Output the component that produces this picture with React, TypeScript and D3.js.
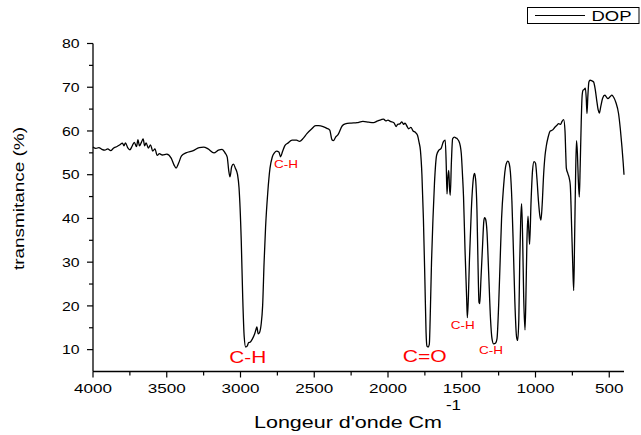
import React from "react";
import * as d3 from "d3";

const wavenumbers: number[] = [
  4000, 3980, 3960, 3940, 3920, 3900, 3880, 3860, 3840, 3820, 3800, 3790, 3780, 3765, 3750, 3735, 3720, 3705, 3695, 3685,
  3672, 3660, 3650, 3640, 3625, 3610, 3595, 3580, 3565, 3550, 3530, 3500, 3470, 3450, 3437, 3420, 3400, 3370, 3320, 3280,
  3250, 3220, 3180, 3150, 3125, 3105, 3090, 3080, 3071, 3060, 3048, 3035, 3020, 3010, 2995, 2985, 2975, 2965, 2955, 2945,
  2935, 2920, 2905, 2895, 2889, 2880, 2870, 2860, 2850, 2840, 2830, 2815, 2800, 2785, 2770, 2755, 2740, 2728, 2715, 2700,
  2680, 2650, 2620, 2600, 2575, 2550, 2520, 2490, 2470, 2440, 2414, 2395, 2380, 2370, 2355, 2340, 2310, 2290, 2250, 2210,
  2170, 2130, 2098, 2070, 2045, 2030, 2015, 2000, 1985, 1960, 1945, 1935, 1920, 1906, 1895, 1885, 1870, 1860, 1845, 1830,
  1815, 1800, 1790, 1780, 1770, 1760, 1750, 1742, 1736, 1728, 1720, 1712, 1705, 1695, 1685, 1670, 1655, 1640, 1625, 1612,
  1605, 1600, 1595, 1588, 1583, 1578, 1570, 1562, 1550, 1540, 1530, 1520, 1510, 1503, 1495, 1488, 1478, 1467, 1462, 1455,
  1448, 1435, 1420, 1413, 1405, 1397, 1390, 1383, 1378, 1370, 1360, 1350, 1345, 1338, 1329, 1318, 1305, 1295, 1284, 1270,
  1261, 1250, 1240, 1230, 1216, 1200, 1187, 1178, 1170, 1160, 1150, 1140, 1128, 1121, 1113, 1107, 1100, 1094, 1087, 1080,
  1071, 1065, 1058, 1051, 1045, 1040, 1030, 1020, 1010, 1000, 990, 980, 970, 963, 955, 945, 935, 927, 915, 900,
  885, 870, 855, 843, 830, 820, 809, 800, 795, 791, 780, 770, 764, 755, 748, 741, 735, 728, 722, 716,
  710, 703, 697, 690, 684, 678, 670, 662, 656, 651, 645, 638, 630, 620, 606, 595, 585, 575, 567, 558,
  545, 530, 520, 509, 495, 482, 470, 455, 437, 425, 414, 405, 400,
];

const transmittance: number[] = [
  56.3, 56.0, 56.2, 55.8, 55.6, 55.9, 55.5, 56.1, 56.4, 56.8, 57.2, 56.6, 57.3, 56.2, 55.7, 56.5, 57.4, 56.4, 58.0, 56.6,
  57.4, 58.2, 56.6, 57.3, 56.1, 56.8, 55.4, 55.9, 54.4, 54.8, 54.5, 54.7, 53.8, 52.2, 51.5, 52.6, 54.3, 55.0, 55.5, 56.2,
  56.3, 55.9, 55.0, 55.6, 55.8, 55.0, 54.0, 51.0, 49.5, 51.8, 52.4, 51.5, 50.0, 47.0, 35, 22, 13, 10.6, 10.8, 11.6,
  11.7, 12.4, 13.5, 14.6, 15.2, 13.6, 14.0, 15.8, 20, 30, 38, 46, 51.5, 54, 55, 55.4, 55.2, 54.1, 55.3, 56.6,
  57.2, 57.9, 57.9, 57.6, 58.3, 59.4, 60.4, 61.2, 61.2, 61.0, 60.6, 60.2, 58.0, 57.8, 58.6, 59.1, 61.2, 61.6, 61.8, 61.9,
  62.2, 62.0, 61.9, 62.3, 62.6, 62.7, 62.3, 62.5, 62.2, 61.9, 61.0, 61.5, 61.6, 62.1, 61.5, 61.8, 61.0, 60.5, 60.8, 60.0,
  59.7, 59.0, 57.5, 55.5, 50, 40, 26, 14, 10.8, 10.6, 11.2, 20, 30, 40, 48, 54.5, 55.6, 56.0, 57.5, 57.9,
  52, 45.6, 49, 51, 47, 45.3, 53, 58.2, 58.6, 58.4, 58.2, 57.7, 56.6, 54.8, 50, 45, 33, 22, 17.3, 22,
  30.4, 42, 49.5, 50.3, 48.5, 42, 30, 20.8, 20.5, 26, 33, 39.5, 40.2, 39.8, 37, 28, 17, 12.5, 11.3, 11.5,
  12.5, 20, 30, 40, 47.5, 52.3, 53.1, 52.5, 50.5, 44, 33, 21, 12.8, 12.1, 17, 30, 40, 43.4, 35, 22,
  14.5, 22, 35, 40.5, 37, 34.1, 44, 51, 53, 52.6, 49, 44, 40.5, 39.6, 43, 50, 54.5, 56.5, 58.5, 60.0,
  60.2, 60.8, 61.3, 61.7, 61.5, 62.2, 62.6, 60, 55, 51.5, 50.2, 49.0, 47.5, 38, 30, 23.5, 35, 50, 57.8, 55,
  49, 44.9, 52, 62, 68, 69.3, 69.5, 69.8, 67.5, 64.0, 68, 71.2, 71.6, 71.5, 71.2, 69.5, 67, 64.8, 64.1, 65.5,
  67.5, 68.2, 67.8, 67.4, 67.8, 68.2, 67.7, 66.5, 64.0, 60.5, 56.4, 52.5, 50,
];

const xTicks: number[] = [4000, 3500, 3000, 2500, 2000, 1500, 1000, 500];
const xMinorTicks: number[] = [3750, 3250, 2750, 2250, 1750, 1250, 750];
const yTicks: number[] = [10, 20, 30, 40, 50, 60, 70, 80];
const yMinorTicks: number[] = [15, 25, 35, 45, 55, 65, 75];

const seriesName = "DOP";
const xTitle = "Longeur d'onde Cm";
const xTitleSup = "-1";
const yTitle = "transmitance (%)";

// band annotations: text, anchor wavenumber (left edge), anchor transmittance (baseline)
const bandText: string[] = ["C-H", "C=O", "C-H", "C-H", "C-H"];
const bandWn: number[] = [3076, 1900, 2772, 1575, 1383];
const bandVal: number[] = [6.9, 7.2, 51.5, 14.8, 9.0];
const bandSize: number[] = [17, 17, 11, 11, 11];
const bandLen: number[] = [37, 44, 24, 24, 24];

const FONT = "'Liberation Sans', Arial, Helvetica, sans-serif";

export default function App() {
  const x = d3.scaleLinear().domain([4000, 400]).range([93, 624]);
  const y = d3.scaleLinear().domain([5, 80]).range([371.5, 43.5]);
  const data = wavenumbers.map((w, i) => [w, transmittance[i]] as [number, number]);
  const line = d3
    .line<[number, number]>()
    .x((d) => x(d[0]))
    .y((d) => y(d[1]))
    .curve(d3.curveMonotoneX);

  const x0 = x.range()[0];
  const x1 = x.range()[1];
  const yBottom = y.range()[0];
  const yTop = y.range()[1];

  return (
    <svg
      width={641}
      height={435}
      style={{ position: "absolute", left: 0, top: 0, background: "#fff" }}
      fontFamily={FONT}
    >
      <rect width={641} height={435} fill="#fff" />
      {/* axes */}
      <line x1={x0} x2={x0} y1={yTop} y2={yBottom} stroke="#000" strokeWidth={1.3} />
      <line x1={x0} x2={x1} y1={yBottom} y2={yBottom} stroke="#000" strokeWidth={1.3} />
      {yTicks.map((t) => (
        <g key={"yt" + t}>
          <line x1={x0 - 6} x2={x0} y1={y(t)} y2={y(t)} stroke="#000" strokeWidth={1.2} />
          <text
            x={79.5}
            y={y(t) + 4.6}
            textAnchor="end"
            fontSize={13}
            textLength={String(t).length * 8.8}
            lengthAdjust="spacingAndGlyphs"
          >
            {t}
          </text>
        </g>
      ))}
      {yMinorTicks.map((t) => (
        <line key={"ym" + t} x1={x0 - 4} x2={x0} y1={y(t)} y2={y(t)} stroke="#000" strokeWidth={1.2} />
      ))}
      {xTicks.map((t) => (
        <g key={"xt" + t}>
          <line x1={x(t)} x2={x(t)} y1={yBottom} y2={yBottom + 6} stroke="#000" strokeWidth={1.2} />
          <text
            x={x(t)}
            y={393.3}
            textAnchor="middle"
            fontSize={13}
            textLength={String(t).length * 9.5}
            lengthAdjust="spacingAndGlyphs"
          >
            {t}
          </text>
        </g>
      ))}
      {xMinorTicks.map((t) => (
        <line key={"xm" + t} x1={x(t)} x2={x(t)} y1={yBottom} y2={yBottom + 4} stroke="#000" strokeWidth={1.2} />
      ))}
      {/* axis titles */}
      <text x={254} y={428} fontSize={16} textLength={188} lengthAdjust="spacingAndGlyphs">
        {xTitle}
      </text>
      <text x={446} y={410} fontSize={14} textLength={15} lengthAdjust="spacingAndGlyphs">
        {xTitleSup}
      </text>
      <text
        transform="translate(24,198.5) rotate(-90)"
        textAnchor="middle"
        fontSize={15}
        textLength={143}
        lengthAdjust="spacingAndGlyphs"
      >
        {yTitle}
      </text>
      {/* spectrum */}
      <path d={line(data) || ""} fill="none" stroke="#000" strokeWidth={1.3} strokeLinejoin="round" />
      {/* band labels */}
      {bandText.map((t, i) => (
        <text
          key={"bl" + i}
          x={x(bandWn[i])}
          y={y(bandVal[i])}
          fill="#ff0000"
          fontSize={bandSize[i]}
          textLength={bandLen[i]}
          lengthAdjust="spacingAndGlyphs"
        >
          {t}
        </text>
      ))}
      {/* legend */}
      <rect x={527.5} y={7.5} width={111.5} height={16} fill="#fff" stroke="#000" strokeWidth={1} />
      <line x1={535} x2={585} y1={15.5} y2={15.5} stroke="#000" strokeWidth={1.2} />
      <text x={591.5} y={20.8} fontSize={15} textLength={40} lengthAdjust="spacingAndGlyphs">
        {seriesName}
      </text>
    </svg>
  );
}
